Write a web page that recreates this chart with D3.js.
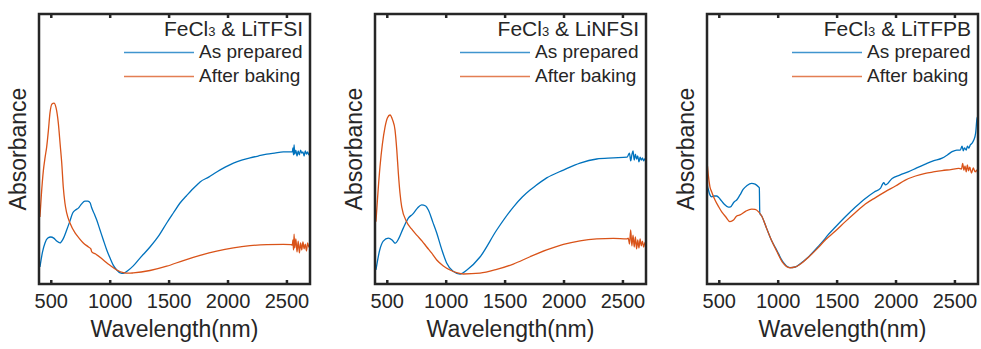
<!DOCTYPE html>
<html>
<head>
<meta charset="utf-8">
<script src="https://cdn.jsdelivr.net/npm/d3@7"></script>
<style>
  body { margin: 0; background: #fff; }
  svg { display: block; font-family: "Liberation Sans", Arial, sans-serif; }
  text { fill: #262626; }
</style>
</head>
<body>
<div id="chart"></div>
<script>
// Wavelength (nm) and absorbance (a.u.) for each sample

// FeCl3 & LiTFSI
const wlTFSIPrep = [408,430,451,475,500,525,550,578,605,635,660,686,710,734,760,790,815,835,845,870,890,918,946,975,1003,1030,1060,1090,1116,1150,1200,1257,1342,1420,1484,1540,1597,1650,1696,1740,1767,1840,1908,1980,2050,2120,2191,2260,2333,2400,2474,2540,2550,2555,2560,2565,2570,2580,2590,2600,2610,2620,2630,2640,2650,2660,2670,2680,2690,2700];
const absTFSIPrep = [0.063,0.119,0.152,0.170,0.174,0.170,0.159,0.152,0.167,0.200,0.230,0.263,0.274,0.281,0.296,0.307,0.307,0.300,0.285,0.259,0.237,0.200,0.163,0.126,0.096,0.070,0.052,0.041,0.039,0.048,0.067,0.096,0.137,0.181,0.226,0.263,0.300,0.326,0.348,0.367,0.378,0.396,0.415,0.433,0.448,0.459,0.467,0.474,0.481,0.485,0.489,0.489,0.489,0.504,0.478,0.515,0.481,0.496,0.474,0.493,0.478,0.496,0.485,0.489,0.474,0.493,0.481,0.489,0.478,0.485];
const wlTFSIBake = [408,420,437,452,465,480,493,510,527,545,564,580,593,606,620,635,663,706,740,776,820,840,848,880,946,1000,1060,1116,1160,1200,1342,1484,1625,1767,1908,2050,2191,2333,2474,2540,2550,2555,2560,2565,2570,2580,2590,2600,2610,2620,2630,2640,2650,2660,2670,2680,2690,2700];
const absTFSIBake = [0.248,0.330,0.420,0.470,0.507,0.570,0.633,0.667,0.670,0.652,0.596,0.515,0.448,0.359,0.300,0.263,0.226,0.189,0.170,0.152,0.137,0.130,0.119,0.111,0.089,0.070,0.052,0.042,0.040,0.041,0.050,0.066,0.087,0.106,0.122,0.134,0.142,0.146,0.147,0.146,0.144,0.163,0.126,0.185,0.133,0.167,0.119,0.159,0.115,0.152,0.126,0.156,0.130,0.148,0.122,0.152,0.137,0.144];

// FeCl3 & LiNFSI
const wlNFSIPrep = [408,440,470,513,545,570,600,640,683,720,760,796,830,853,890,924,965,1008,1060,1122,1180,1291,1433,1574,1650,1716,1760,1857,1999,2140,2282,2423,2540,2560,2570,2580,2590,2600,2610,2620,2630,2640,2650,2660,2670,2680,2690,2700];
const absNFSIPrep = [0.052,0.126,0.159,0.170,0.163,0.151,0.167,0.207,0.244,0.259,0.281,0.293,0.289,0.274,0.230,0.189,0.130,0.078,0.048,0.037,0.052,0.100,0.200,0.285,0.322,0.348,0.363,0.393,0.422,0.448,0.463,0.467,0.470,0.485,0.456,0.478,0.493,0.459,0.481,0.463,0.474,0.452,0.470,0.459,0.467,0.456,0.463,0.459];
const wlNFSIBake = [408,442,485,505,527,550,570,585,598,612,627,669,710,754,800,839,880,924,980,1037,1100,1150,1291,1433,1574,1716,1857,1999,2140,2282,2423,2537,2550,2560,2570,2580,2590,2600,2610,2620,2630,2640,2650,2660,2670,2680,2690,2700];
const absNFSIBake = [0.231,0.433,0.581,0.615,0.626,0.607,0.570,0.496,0.411,0.337,0.285,0.230,0.204,0.181,0.159,0.137,0.115,0.089,0.067,0.052,0.041,0.037,0.040,0.054,0.074,0.101,0.126,0.147,0.160,0.167,0.169,0.167,0.170,0.148,0.200,0.141,0.181,0.137,0.174,0.130,0.163,0.133,0.167,0.141,0.159,0.137,0.152,0.156];

// FeCl3 & LiTFPB
const wlTFPBPrep = [401,405,411,425,440,460,482,510,545,581,600,630,652,680,708,740,779,808,836,844,848,864,906,950,991,1040,1104,1150,1188,1263,1340,1404,1420,1490,1574,1660,1744,1820,1871,1890,1900,1915,1971,2040,2112,2180,2253,2320,2395,2440,2480,2520,2550,2565,2575,2585,2600,2610,2621,2635,2650,2664,2680,2692,2700];
const absTFPBPrep = [0.400,0.363,0.351,0.330,0.323,0.326,0.326,0.315,0.296,0.285,0.286,0.304,0.311,0.330,0.351,0.365,0.373,0.370,0.360,0.356,0.262,0.252,0.206,0.159,0.126,0.085,0.061,0.063,0.074,0.101,0.137,0.169,0.178,0.211,0.249,0.285,0.317,0.341,0.354,0.370,0.375,0.367,0.391,0.404,0.416,0.430,0.444,0.456,0.466,0.478,0.490,0.496,0.496,0.511,0.493,0.504,0.496,0.511,0.503,0.515,0.522,0.533,0.559,0.614,0.622];
const wlTFPBBake = [401,405,411,425,440,468,500,525,560,595,625,652,680,730,779,808,836,864,906,950,991,1040,1104,1150,1188,1263,1340,1404,1490,1574,1660,1744,1830,1914,2000,2083,2170,2253,2320,2395,2470,2536,2560,2570,2580,2590,2600,2610,2620,2630,2645,2660,2675,2690,2700];
const absTFPBBake = [0.445,0.433,0.404,0.360,0.341,0.311,0.285,0.267,0.248,0.231,0.237,0.252,0.256,0.270,0.277,0.276,0.268,0.252,0.206,0.159,0.122,0.081,0.060,0.063,0.072,0.100,0.133,0.163,0.196,0.231,0.265,0.296,0.320,0.342,0.363,0.385,0.400,0.410,0.415,0.420,0.424,0.428,0.426,0.447,0.422,0.437,0.415,0.441,0.419,0.433,0.411,0.430,0.415,0.422,0.396];

const xTicks = [500, 1000, 1500, 2000, 2500];
const seriesNames = ["As prepared", "After baking"];
const seriesColors = ["#0072BD", "#D95319"];

const panels = [
  { salt: "LiTFSI", left: 39,  prep: [wlTFSIPrep, absTFSIPrep], bake: [wlTFSIBake, absTFSIBake] },
  { salt: "LiNFSI", left: 375, prep: [wlNFSIPrep, absNFSIPrep], bake: [wlNFSIBake, absNFSIBake] },
  { salt: "LiTFPB", left: 707, prep: [wlTFPBPrep, absTFPBPrep], bake: [wlTFPBBake, absTFPBBake] }
];

const width = 981, height = 349;
const plotW = 271, plotTop = 14, plotBottom = 284;

const svg = d3.select("#chart").append("svg")
  .attr("width", width)
  .attr("height", height);

panels.forEach(p => {
  const g = svg.append("g").attr("transform", `translate(${p.left},0)`);

  const x = d3.scaleLinear().domain([400, 2700]).range([0, plotW]);
  const y = d3.scaleLinear().domain([0, 1]).range([plotBottom, plotTop]);

  const line = d3.line()
    .x(d => x(d[0]))
    .y(d => y(d[1]))
    .curve(d3.curveMonotoneX);

  [p.prep, p.bake].forEach((s, i) => {
    const pts = s[0].map((w, k) => [w, s[1][k]]);
    g.append("path")
      .datum(pts)
      .attr("fill", "none")
      .attr("stroke", seriesColors[i])
      .attr("stroke-width", 1.3)
      .attr("d", line);
  });

  // bottom axis, ticks pointing inward
  const xAxis = g.append("g")
    .attr("transform", `translate(0,${plotBottom})`)
    .call(d3.axisBottom(x).tickValues(xTicks).tickFormat(d3.format("d")).tickSize(-4).tickPadding(10));
  xAxis.select(".domain").remove();
  xAxis.selectAll(".tick line").attr("stroke", "#262626").attr("stroke-width", 2.5);
  xAxis.selectAll(".tick text")
    .attr("fill", "#262626")
    .style("font-size", "20px")
    .attr("font-family", null);

  // top axis ticks
  const xTop = g.append("g")
    .attr("transform", `translate(0,${plotTop})`)
    .call(d3.axisTop(x).tickValues(xTicks).tickSize(-4).tickFormat(""));
  xTop.select(".domain").remove();
  xTop.selectAll(".tick line").attr("stroke", "#262626").attr("stroke-width", 2.5);

  // box
  g.append("rect")
    .attr("x", 0).attr("y", plotTop)
    .attr("width", plotW).attr("height", plotBottom - plotTop)
    .attr("fill", "none")
    .attr("stroke", "#262626")
    .attr("stroke-width", 2.5);

  // axis labels
  g.append("text")
    .attr("x", plotW / 2).attr("y", 337)
    .attr("text-anchor", "middle")
    .style("font-size", "23px")
    .text("Wavelength(nm)");

  g.append("text")
    .attr("transform", `translate(-13,${(plotTop + plotBottom) / 2}) rotate(-90)`)
    .attr("text-anchor", "middle")
    .style("font-size", "23px")
    .text("Absorbance");

  // legend
  const title = g.append("text")
    .attr("x", 264).attr("y", 36)
    .attr("text-anchor", "end")
    .style("font-size", "21px");
  title.append("tspan").text("FeCl");
  title.append("tspan").style("font-size", "13px").text("3");
  title.append("tspan").text(" & " + p.salt);

  seriesNames.forEach((name, i) => {
    const ly = 52.5 + i * 24;
    g.append("line")
      .attr("x1", 85).attr("x2", 155)
      .attr("y1", ly).attr("y2", ly)
      .attr("stroke", seriesColors[i])
      .attr("stroke-opacity", 0.75)
      .attr("stroke-width", 1.3);
    g.append("text")
      .attr("x", 160).attr("y", ly + 5)
      .style("font-size", "19px")
      .text(name);
  });
});
</script>
</body>
</html>
